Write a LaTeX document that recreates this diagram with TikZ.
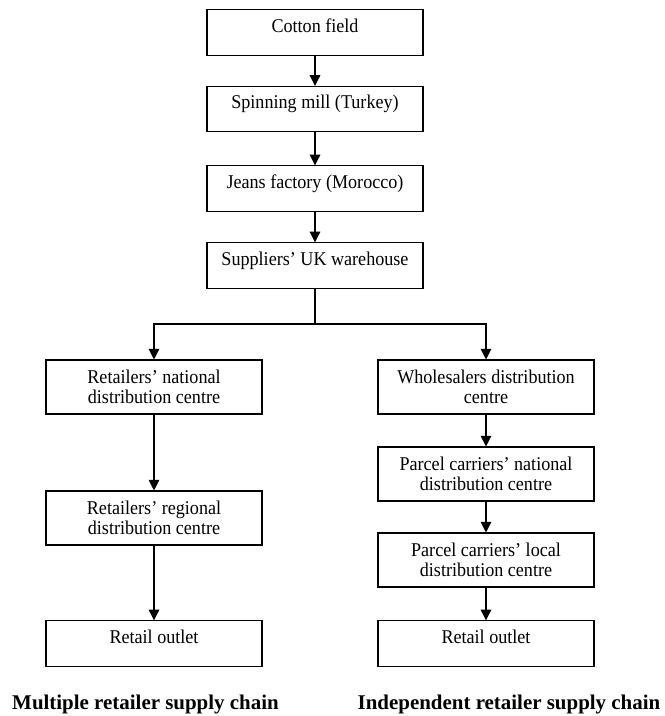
\documentclass[tikz,border=0pt]{standalone}
\usepackage{fontspec}
\setmainfont[FakeStretch=0.93]{Liberation Serif}
\newfontfamily\chainfont{Liberation Serif}
\usetikzlibrary{arrows.meta}
\begin{document}
\begin{tikzpicture}[x=0.75pt,y=-0.75pt,
  box/.style={draw=black,line width=0.8pt,minimum width=162pt,inner sep=2pt,
    font=\fontsize{14.6}{15}\selectfont,align=center},
  onebox/.style={box,minimum height=34pt,text height=9.5pt,text depth=9.5pt},
  twobox/.style={box,minimum height=40.5pt},
  arr/.style={line width=0.8pt,-{Triangle[length=8pt,width=8pt]}},
  ln/.style={line width=0.8pt},
  chainlabel/.style={font=\chainfont\fontsize{15.7}{18}\selectfont\bfseries,anchor=base,inner sep=0pt}]
\useasboundingbox (0,0) rectangle (664,716);
\node[onebox] (cotton) at (315,32.5) {Cotton field};
\node[onebox] (spin) at (315,109) {Spinning mill (Turkey)};
\node[onebox] (jeans) at (315,188.5) {Jeans factory (Morocco)};
\node[onebox] (sup) at (315,265.5) {Suppliers’ UK warehouse};
\coordinate (j) at (315,324);
\node[twobox] (rnat) at (154,387) {Retailers’ national\\distribution centre};
\node[twobox] (rreg) at (154,518) {Retailers’ regional\\distribution centre};
\node[onebox] (rout) at (154,643.5) {Retail outlet};
\node[twobox] (whole) at (486,387) {Wholesalers distribution\\centre};
\node[twobox] (pnat) at (486,474) {Parcel carriers’ national\\distribution centre};
\node[twobox] (ploc) at (486,560) {Parcel carriers’ local\\distribution centre};
\node[onebox] (iout) at (486,643.5) {Retail outlet};
\node[chainlabel] (lmult) at (145.5,709) {Multiple retailer supply chain};
\node[chainlabel] (lind) at (509,709) {Independent retailer supply chain};
\draw[arr] (cotton) -- (spin);
\draw[arr] (spin) -- (jeans);
\draw[arr] (jeans) -- (sup);
\draw[ln] (sup) -- (j);
\draw[arr] (j) -| (rnat.north);
\draw[arr] (j) -| (whole.north);
\draw[arr] (rnat) -- (rreg);
\draw[arr] (rreg) -- (rout);
\draw[arr] (whole) -- (pnat);
\draw[arr] (pnat) -- (ploc);
\draw[arr] (ploc) -- (iout);
\end{tikzpicture}
\end{document}
